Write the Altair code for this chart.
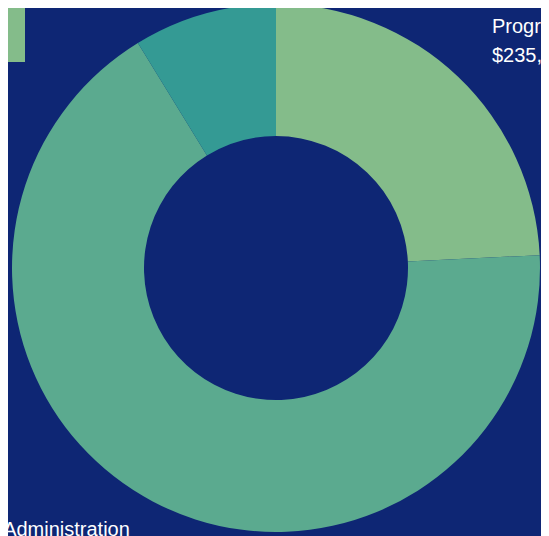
import altair as alt
import pandas as pd

categories = ["Programs", "Administration", "Fundraising"]
values = [235000, 650000, 85000]
colors = ["#84bc8a", "#5baa8f", "#349a94"]

df = pd.DataFrame({"category": categories, "value": values})

base = alt.Chart(df).transform_window(
    idx="row_number()"
).transform_joinaggregate(
    total="sum(value)"
).transform_calculate(
    lines="[datum.category, '$' + format(datum.value, ',')]"
).encode(
    theta=alt.Theta("value:Q", stack=True),
    order=alt.Order("idx:Q"),
    x=alt.value(268),
    y=alt.value(260),
)

arcs = base.mark_arc(outerRadius=264, innerRadius=132).encode(
    color=alt.Color(
        "category:N",
        scale=alt.Scale(domain=categories, range=colors),
        legend=alt.Legend(
            values=["Programs"],
            orient="none",
            legendX=-53,
            legendY=-16,
            padding=0,
            symbolType="square",
            symbolSize=4900,
            symbolOffset=0,
            symbolStrokeWidth=0,
            labelOpacity=0,
            title=None,
        ),
    )
)

labels = base.mark_text(
    radius=313,
    dy=-14.5,
    fontSize=20,
    lineHeight=29,
    font="Liberation Sans",
    color="#ffffff",
    baseline="middle",
    align=alt.ExprRef(expr="(datum.value_start + datum.value_end) < datum.total ? 'left' : 'right'"),
).encode(text="lines:N")

chart = alt.layer(arcs, labels).properties(
    width=533,
    height=528,
    autosize=alt.AutoSizeParams(type="none"),
    padding=0,
    background="#0e2674",
).configure_view(stroke=None)

chart.save("out.html", embed_options={"renderer": "svg", "actions": False})
